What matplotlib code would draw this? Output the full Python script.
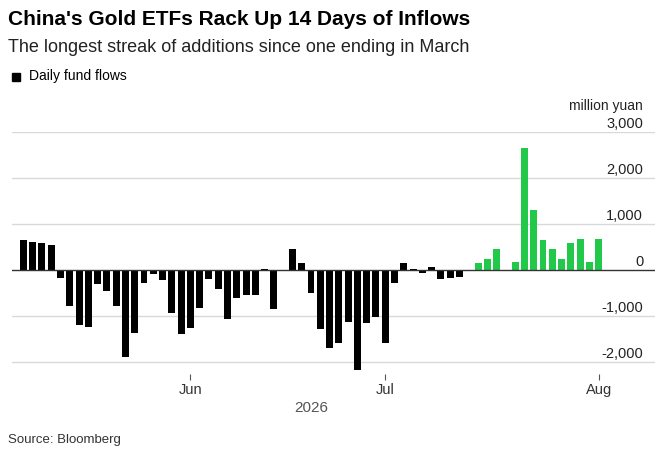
import matplotlib.pyplot as plt
import numpy as np

plt.rcParams['font.family'] = ['Liberation Sans', 'DejaVu Sans']

flows = [660, 620, 600, 540, -180, -790, -1190, -1230, -300, -450, -790, -1890,
         -1370, -270, -90, -220, -940, -1390, -1260, -830, -200, -420, -1060,
         -600, -550, -550, 30, -850, -10, 450, 145, -490, -1270, -1700, -1580,
         -1130, -2170, -1150, -1010, -1580, -270, 145, 35, -60, 60, -200, -165,
         -145, np.nan, 160, 250, 450, np.nan, 180, 2650, 1300, 660, 450, 240,
         600, 680, 180, 680]
flows = np.array(flows, dtype=float)
idx = np.arange(len(flows))
colors = ['#22c84a' if i >= 49 else 'black' for i in idx]

fig = plt.figure(figsize=(6.7, 4.54), dpi=100)
ax = fig.add_axes([0.018, 0.177, 0.96, 0.532])
ax.bar(idx, np.nan_to_num(flows), width=0.75, color=colors, zorder=3)

ax.set_xlim(-1.22, 68.1)
ax.set_ylim(-2250, 3000)
for v in [-2000, -1000, 1000, 2000, 3000]:
    ax.axhline(v, color='#d9d9d9', lw=1, zorder=1)
ax.axhline(0, color='#333333', lw=1, zorder=4)
for v in [-2000, -1000, 0, 1000, 2000, 3000]:
    ax.text(66.8, v + 180, f"{v:,}", ha='right', va='center', fontsize=10.5, color='#222222')
ax.text(66.8, 3000 + 560, "million yuan", ha='right', va='center', fontsize=10, color='#222222')

ax.set_xticks([18, 39, 62])
ax.set_xticklabels(['Jun', 'Jul', 'Aug'], fontsize=10.5, color='#333333')
ax.tick_params(axis='x', length=4, color='#555555', pad=3)
ax.set_yticks([])
for s in ax.spines.values():
    s.set_visible(False)
ax.text(31, -3000, "2026", ha='center', va='center', fontsize=11, color='#555555')

fig.text(0.012, 0.958, "China's Gold ETFs Rack Up 14 Days of Inflows", fontsize=15,
         fontweight='bold', ha='left', va='center')
fig.text(0.012, 0.896, "The longest streak of additions since one ending in March",
         fontsize=13, ha='left', va='center', color='#222222')
fig.patches.append(plt.Rectangle((0.018, 0.822), 0.012, 0.018, color='black',
                                 transform=fig.transFigure, figure=fig))
fig.text(0.044, 0.832, "Daily fund flows", fontsize=10, ha='left', va='center')
fig.text(0.012, 0.031, "Source: Bloomberg", fontsize=9.5, ha='left', va='center', color='#333333')

fig.savefig("out.png", dpi=100)
